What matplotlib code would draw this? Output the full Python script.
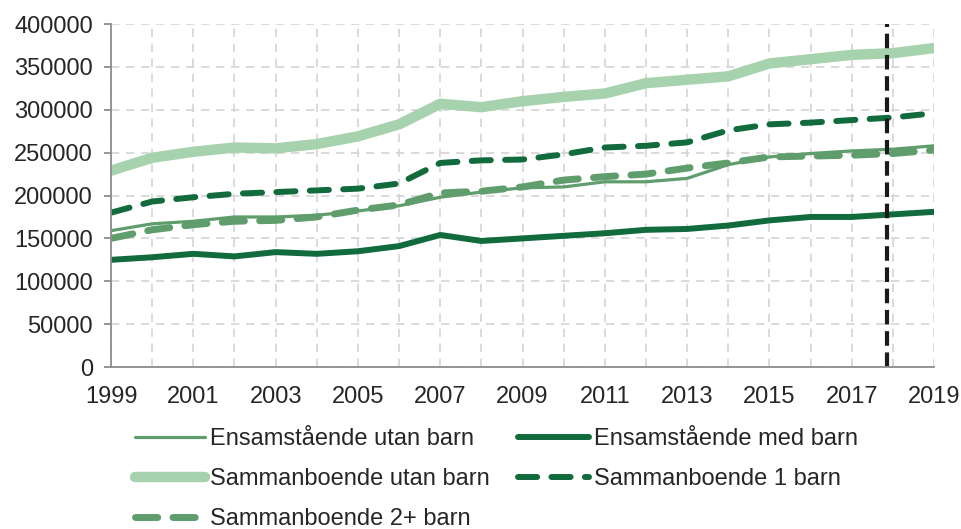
import numpy as np
import matplotlib
matplotlib.use("Agg")
import matplotlib.pyplot as plt

plt.rcParams['font.family'] = ['Liberation Sans', 'DejaVu Sans']

# Data
years = list(range(1999, 2020))

ens_utan = [159000, 167000, 170000, 175000, 175000, 177000, 182000, 188000, 198000, 204000,
            209000, 210000, 216000, 216000, 220000, 236000, 245000, 249000, 252000, 254000, 258000]
ens_med = [125000, 128000, 132000, 129000, 134000, 132000, 135000, 141000, 154000, 147000,
           150000, 153000, 156000, 160000, 161000, 165000, 171000, 175000, 175000, 178000, 181000]
samb_utan = [229000, 244000, 251000, 256000, 255000, 260000, 269000, 283000, 307000, 303000,
             310000, 315000, 319000, 331000, 335000, 339000, 354000, 359000, 364000, 366000, 372000]
samb_1 = [180000, 193000, 198000, 202000, 204000, 206000, 208000, 214000, 238000, 241000,
          242000, 248000, 256000, 258000, 262000, 276000, 283000, 285000, 288000, 291000, 296000]
samb_2 = [150000, 160000, 166000, 170000, 171000, 175000, 183000, 189000, 203000, 205000,
          210000, 218000, 222000, 225000, 232000, 238000, 245000, 246000, 247000, 249000, 253000]

marker_year = 2017.85

light = "#a6d2ad"
dark = "#126b3c"
mid = "#5f9e6c"

fig = plt.figure(figsize=(9.62, 5.29), dpi=100)
ax = fig.add_axes([0.1154, 0.3062, 0.8556, 0.6484])

l1, = ax.plot(years, ens_utan, color=mid, lw=2.3, solid_capstyle='round', label="Ensamstående utan barn")
l3, = ax.plot(years, samb_utan, color=light, lw=7.5, solid_capstyle='round', label="Sammanboende utan barn")
l5, = ax.plot(years, samb_2, color=mid, lw=5, dashes=(3.2, 2.2), dash_capstyle='round',
              label="Sammanboende 2+ barn")
l4, = ax.plot(years, samb_1, color=dark, lw=4.3, dashes=(3.2, 2.4), dash_capstyle='round',
              label="Sammanboende 1 barn")
l2, = ax.plot(years, ens_med, color=dark, lw=4.3, solid_capstyle='round', label="Ensamstående med barn")

ax.axvline(marker_year, color="#1a1a1a", lw=3, dashes=(3.5, 1.6))

ax.set_xlim(1999, 2019)
ax.set_ylim(0, 400000)
ax.set_xticks(range(1999, 2020, 2))
ax.set_xticks(range(1999, 2020), minor=True)
ax.set_yticks(range(0, 400001, 50000))
ax.grid(True, which='both', axis='x', color="#d4d4d4", lw=1.2, dashes=(5, 4))
ax.grid(True, axis='y', color="#d4d4d4", lw=1.2, dashes=(5, 4))
ax.set_axisbelow(True)

for s in ['top', 'right']:
    ax.spines[s].set_visible(False)
for s in ['left', 'bottom']:
    ax.spines[s].set_color("#8c8c8c")
    ax.spines[s].set_linewidth(1.3)

ax.tick_params(axis='y', length=5, width=1.3, color="#8c8c8c", labelsize=17, pad=8)
ax.tick_params(axis='x', which='both', length=0, labelsize=17, pad=14)
for lab in ax.get_xticklabels() + ax.get_yticklabels():
    lab.set_color("#262626")

handles = [l1, l3, l5, l2, l4]
leg = fig.legend(handles=handles, labels=[h.get_label() for h in handles],
                 loc='upper left', bbox_to_anchor=(0.13, 0.208), ncol=2, frameon=False,
                 fontsize=17, handlelength=3.0, handletextpad=0.2, columnspacing=1.2,
                 labelspacing=0.75, borderaxespad=0)
for t in leg.get_texts():
    t.set_color("#262626")

fig.savefig("out.png", dpi=100)
